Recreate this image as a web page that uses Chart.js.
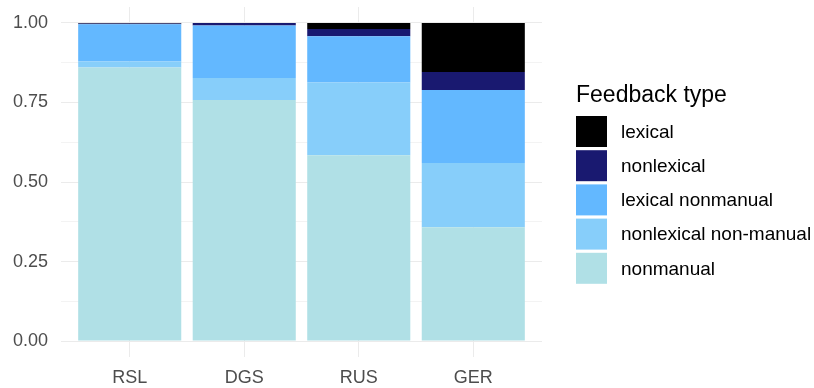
<!DOCTYPE html>
<html>
<head>
<meta charset="utf-8">
<script src="https://cdn.jsdelivr.net/npm/chart.js@4"></script>
<style>
	html, body { margin: 0; padding: 0; background: #fff; }
	#wrap { width: 814px; height: 388px; }
</style>
</head>
<body>
<div id="wrap"><canvas id="feedback-chart" width="814" height="388"></canvas></div>
<script>
const categories = ["RSL", "DGS", "RUS", "GER"];

// shares per language, bottom of the stack first
const nonmanual = [0.860, 0.758, 0.584, 0.358];
const nonlexicalNonManual = [0.019, 0.069, 0.229, 0.202];
const lexicalNonmanual = [0.117, 0.165, 0.145, 0.229];
const nonlexical = [0.002, 0.008, 0.023, 0.057];
const lexical = [0.002, 0.000, 0.019, 0.154];

const feedbackTypes = ["nonmanual", "nonlexical non-manual", "lexical nonmanual", "nonlexical", "lexical"];
const typeColors = ["#B0E0E6", "#87CEFA", "#63B8FF", "#191970", "#000000"];
const series = [nonmanual, nonlexicalNonManual, lexicalNonmanual, nonlexical, lexical];

const yTicks = [0, 0.125, 0.25, 0.375, 0.5, 0.625, 0.75, 0.875, 1];

const FONT = "'Liberation Sans', Arial, sans-serif";

// ggplot-style legend on the right, drawn straight onto the canvas
const sideLegend = {
	id: "sideLegend",
	afterDraw(chart) {
		const ctx = chart.ctx;
		ctx.save();
		ctx.fillStyle = "#000";
		ctx.font = "23px " + FONT;
		ctx.textBaseline = "alphabetic";
		ctx.textAlign = "left";
		ctx.fillText("Feedback type", 576, 102);

		const sets = chart.data.datasets.slice().reverse();
		sets.forEach((ds, i) => {
			const top = 116 + i * 34.2;
			ctx.fillStyle = ds.backgroundColor;
			ctx.fillRect(576, top, 31, 31);
			ctx.fillStyle = "#000";
			ctx.font = "19px " + FONT;
			ctx.textBaseline = "middle";
			ctx.fillText(ds.label, 621, top + 16.5);
		});
		ctx.restore();
	}
};

const config = {
	type: "bar",
	data: {
		datasets: series.map((values, i) => ({
			label: feedbackTypes[i],
			data: values.map((v, j) => ({ x: j + 1, y: v })),
			backgroundColor: typeColors[i],
			borderWidth: 0,
			barPercentage: 0.9,
			categoryPercentage: 1
		}))
	},
	options: {
		responsive: false,
		animation: false,
		layout: { padding: { top: 7, right: 272, left: 0, bottom: 0 } },
		scales: {
			x: {
				type: "linear",
				stacked: true,
				offset: false,
				min: 0.4,
				max: 4.6,
				afterBuildTicks: axis => (axis.ticks = categories.map((c, i) => ({ value: i + 1 }))),
				afterFit: scale => {
					scale.height = 31;
					scale.paddingLeft = 0;
					scale.paddingRight = 0;
				},
				grid: { color: "#ebebeb", lineWidth: 1, drawTicks: false, offset: false },
				border: { display: false },
				ticks: {
					color: "#4d4d4d",
					font: { family: FONT, size: 18 },
					padding: 10,
					autoSkip: false,
					maxRotation: 0,
					callback: value => categories[value - 1]
				}
			},
			y: {
				stacked: true,
				min: -0.05,
				max: 1.05,
				afterBuildTicks: axis => (axis.ticks = yTicks.map(value => ({ value }))),
				afterFit: scale => {
					scale.width = 61;
					scale.paddingTop = 0;
					scale.paddingBottom = 0;
				},
				grid: {
					drawTicks: false,
					color: ctx => (ctx.tick && ctx.tick.value % 0.25 === 0 ? "#ebebeb" : "#f3f3f3"),
					lineWidth: 1
				},
				border: { display: false },
				ticks: {
					color: "#4d4d4d",
					font: { family: FONT, size: 18 },
					padding: 13,
					autoSkip: false,
					callback: value => (value % 0.25 === 0 ? value.toFixed(2) : "")
				}
			}
		},
		plugins: {
			legend: { display: false },
			tooltip: { enabled: false }
		}
	},
	plugins: [sideLegend]
};

new Chart(document.getElementById("feedback-chart"), config);
</script>
</body>
</html>
